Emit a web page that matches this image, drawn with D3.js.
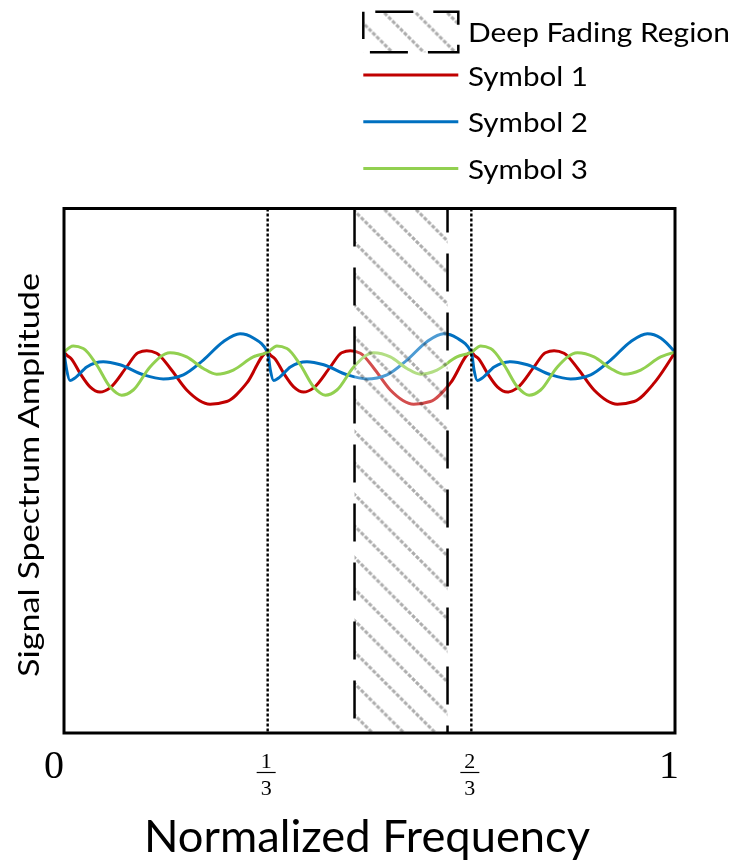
<!DOCTYPE html>
<html>
<head>
<meta charset="utf-8">
<script src="https://cdn.jsdelivr.net/npm/d3@7"></script>
<style>
  body { margin: 0; background: #fff; }
  svg { display: block; }
</style>
</head>
<body>
<svg id="chart"></svg>
<script>
// values: [normalized frequency, amplitude as a share of the plot height]
const symbol1 = [
  [0.0000, 0.726], [0.0049, 0.720], [0.0115, 0.714], [0.0262, 0.686], [0.0426, 0.660], [0.0589, 0.650],
  [0.0753, 0.658], [0.1026, 0.698], [0.1211, 0.725], [0.1354, 0.729], [0.1517, 0.724], [0.1735, 0.696],
  [0.2008, 0.654], [0.2390, 0.627], [0.2663, 0.632], [0.2990, 0.667],
  [0.3333, 0.726], [0.3382, 0.720], [0.3448, 0.714], [0.3595, 0.686], [0.3759, 0.660], [0.3922, 0.650],
  [0.4086, 0.658], [0.4359, 0.698], [0.4544, 0.725], [0.4687, 0.729], [0.4850, 0.724], [0.5068, 0.696],
  [0.5341, 0.654], [0.5723, 0.627], [0.5996, 0.632], [0.6323, 0.667],
  [0.6667, 0.726], [0.6716, 0.720], [0.6782, 0.714], [0.6929, 0.686], [0.7093, 0.660], [0.7256, 0.650],
  [0.7420, 0.658], [0.7693, 0.698], [0.7878, 0.725], [0.8021, 0.729], [0.8184, 0.724], [0.8402, 0.696],
  [0.8675, 0.654], [0.9057, 0.627], [0.9330, 0.632], [0.9657, 0.667], [1.0000, 0.726]
];

const symbol2 = [
  [0.0000, 0.726], [0.0044, 0.692], [0.0098, 0.672], [0.0180, 0.677], [0.0372, 0.698], [0.0643, 0.708],
  [0.0917, 0.702], [0.1298, 0.683], [0.1625, 0.675], [0.1953, 0.683], [0.2280, 0.711], [0.2607, 0.746],
  [0.2881, 0.761], [0.3098, 0.753],
  [0.3333, 0.726], [0.3377, 0.692], [0.3431, 0.672], [0.3513, 0.677], [0.3705, 0.698], [0.3976, 0.708],
  [0.4250, 0.702], [0.4631, 0.683], [0.4958, 0.675], [0.5286, 0.683], [0.5613, 0.711], [0.5940, 0.746],
  [0.6214, 0.761], [0.6431, 0.753],
  [0.6667, 0.726], [0.6711, 0.692], [0.6765, 0.672], [0.6847, 0.677], [0.7039, 0.698], [0.7310, 0.708],
  [0.7584, 0.702], [0.7965, 0.683], [0.8292, 0.675], [0.8620, 0.683], [0.8947, 0.711], [0.9274, 0.746],
  [0.9548, 0.761], [0.9765, 0.753], [1.0000, 0.726]
];

const symbol3 = [
  [0.0000, 0.726], [0.0152, 0.738], [0.0316, 0.733], [0.0535, 0.702], [0.0753, 0.660], [0.0944, 0.644],
  [0.1134, 0.654], [0.1408, 0.698], [0.1735, 0.725], [0.2008, 0.717], [0.2280, 0.695], [0.2499, 0.684],
  [0.2771, 0.692], [0.3098, 0.717],
  [0.3333, 0.726], [0.3485, 0.738], [0.3649, 0.733], [0.3868, 0.702], [0.4086, 0.660], [0.4277, 0.644],
  [0.4467, 0.654], [0.4741, 0.698], [0.5068, 0.725], [0.5341, 0.717], [0.5613, 0.695], [0.5832, 0.684],
  [0.6104, 0.692], [0.6431, 0.717],
  [0.6667, 0.726], [0.6819, 0.738], [0.6983, 0.733], [0.7202, 0.702], [0.7420, 0.660], [0.7611, 0.644],
  [0.7801, 0.654], [0.8075, 0.698], [0.8402, 0.725], [0.8675, 0.717], [0.8947, 0.695], [0.9166, 0.684],
  [0.9438, 0.692], [0.9765, 0.717], [1.0000, 0.726]
];

const seriesNames = ["Symbol 1", "Symbol 2", "Symbol 3"];
const seriesColors = ["#c00000", "#0070c0", "#92d050"];
const fadeLabel = "Deep Fading Region";
const fadeRegion = [0.4755, 0.6277];
const dividers = [1 / 3, 2 / 3];
const tickValues = [0, 1 / 3, 2 / 3, 1];
const tickLabels = [["0"], ["1", "3"], ["2", "3"], ["1"]];
const xTitle = "Normalized Frequency";
const yTitle = "Signal Spectrum Amplitude";

class SpectrumChart {
  constructor(_config, _series) {
    this.config = {
      parentElement: _config.parentElement,
      containerWidth: _config.containerWidth || 734,
      containerHeight: _config.containerHeight || 862,
      margin: {top: 208.5, right: 59, bottom: 129, left: 64}
    };
    this.series = _series;
    this.initVis();
  }

  initVis() {
    let vis = this;
    const m = vis.config.margin;
    vis.width = vis.config.containerWidth - m.left - m.right;
    vis.height = vis.config.containerHeight - m.top - m.bottom;

    vis.svg = d3.select(vis.config.parentElement)
      .attr('width', vis.config.containerWidth)
      .attr('height', vis.config.containerHeight);

    vis.defs = vis.svg.append('defs');
    // hatch patterns (offset so the diagonals fall where they do in the picture)
    vis.addHatch('hatchPlot', 4.5);
    vis.addHatch('hatchLegend', 25);

    vis.defs.append('clipPath').attr('id', 'plotClip')
      .append('rect').attr('width', vis.width).attr('height', vis.height);

    vis.chart = vis.svg.append('g')
      .attr('transform', `translate(${m.left}, ${m.top})`);

    vis.xScale = d3.scaleLinear().domain([0, 1]).range([0, vis.width]);
    vis.yScale = d3.scaleLinear().domain([0, 1]).range([vis.height, 0]);

    vis.updateVis();
  }

  addHatch(id, offset) {
    const w = 31.5;
    const p = this.defs.append('pattern')
      .attr('id', id)
      .attr('patternUnits', 'userSpaceOnUse')
      .attr('x', offset).attr('y', 0)
      .attr('width', w).attr('height', w);
    p.append('path')
      .attr('d', `M-3,-3L${w + 3},${w + 3}M${w - 3},-3L${w + 3},3M-3,${w - 3}L3,${w + 3}`)
      .attr('stroke', '#acacac')
      .attr('stroke-width', 3)
      .attr('stroke-dasharray', '4 1.6');
  }

  updateVis() {
    let vis = this;
    const x = vis.xScale, y = vis.yScale;

    const line = d3.line()
      .x(d => x(d[0]))
      .y(d => y(d[1]))
      .curve(d3.curveMonotoneX);

    // spectra
    vis.chart.append('g').attr('clip-path', 'url(#plotClip)')
      .selectAll('path')
      .data(vis.series)
      .join('path')
        .attr('d', d => line(d.values))
        .attr('fill', 'none')
        .attr('stroke', d => d.color)
        .attr('stroke-width', 3)
        .attr('stroke-linejoin', 'round');

    // deep fading region: washed out + hatched
    const fx0 = x(fadeRegion[0]), fx1 = x(fadeRegion[1]);
    vis.chart.append('rect')
      .attr('x', fx0).attr('y', 0)
      .attr('width', fx1 - fx0).attr('height', vis.height)
      .attr('fill', '#fff').attr('fill-opacity', 0.3);
    vis.chart.append('rect')
      .attr('x', fx0).attr('y', 0)
      .attr('width', fx1 - fx0).attr('height', vis.height)
      .attr('fill', 'url(#hatchPlot)')
      .style('mix-blend-mode', 'multiply');

    vis.chart.selectAll('.fade-edge')
      .data(fadeRegion)
      .join('line')
        .attr('class', 'fade-edge')
        .attr('x1', d => x(d)).attr('x2', d => x(d))
        .attr('y1', 0).attr('y2', vis.height)
        .attr('stroke', '#000')
        .attr('stroke-width', 2.5)
        .attr('stroke-dasharray', '38 21')
        .attr('stroke-dashoffset', (d, i) => i === 0 ? 0 : 14);

    // band dividers
    vis.chart.selectAll('.divider')
      .data(dividers)
      .join('line')
        .attr('class', 'divider')
        .attr('x1', d => x(d)).attr('x2', d => x(d))
        .attr('y1', 0).attr('y2', vis.height)
        .attr('stroke', '#000')
        .attr('stroke-width', 2.4)
        .attr('stroke-dasharray', '3 2');

    // frame
    vis.chart.append('rect')
      .attr('width', vis.width).attr('height', vis.height)
      .attr('fill', 'none').attr('stroke', '#000').attr('stroke-width', 3);

    // x tick labels: plain digits at the ends, stacked fractions inside
    const ticks = vis.chart.append('g')
      .attr('transform', `translate(0, ${vis.height})`)
      .selectAll('g')
      .data(tickValues.map((v, i) => ({v: v, label: tickLabels[i]})))
      .join('g')
        .attr('transform', d => `translate(${x(d.v) + (d.v === 0 ? -10 : d.v === 1 ? -6 : -1.5)}, 0)`)
        .style('font-family', '"Liberation Serif", "Times New Roman", serif')
        .attr('text-anchor', 'middle');

    ticks.filter(d => d.label.length === 1)
      .append('text')
        .attr('y', 45)
        .style('font-size', '40px')
        .text(d => d.label[0]);

    const frac = ticks.filter(d => d.label.length === 2);
    frac.append('text').attr('y', 35).style('font-size', '22px').text(d => d.label[0]);
    frac.append('line')
      .attr('x1', -9.5).attr('x2', 9.5)
      .attr('y1', 39.5).attr('y2', 39.5)
      .attr('stroke', '#000').attr('stroke-width', 1.2);
    frac.append('text').attr('y', 62).style('font-size', '22px').text(d => d.label[1]);

    // axis titles
    vis.svg.append('text')
      .attr('x', 367).attr('y', 851.5)
      .attr('text-anchor', 'middle')
      .attr('textLength', 446).attr('lengthAdjust', 'spacingAndGlyphs')
      .style('font-family', 'Lato, "Open Sans", sans-serif')
      .style('font-size', '44px')
      .text(xTitle);

    vis.svg.append('text')
      .attr('transform', 'translate(39, 475) rotate(-90)')
      .attr('text-anchor', 'middle')
      .attr('textLength', 404).attr('lengthAdjust', 'spacingAndGlyphs')
      .style('font-family', 'Lato, "Open Sans", sans-serif')
      .style('font-size', '28px')
      .text(yTitle);

    vis.drawLegend();
  }

  drawLegend() {
    let vis = this;
    const lx0 = 363.3, lx1 = 458.3, textX = 468;
    const legend = vis.svg.append('g')
      .style('font-family', 'Lato, "Open Sans", sans-serif')
      .style('font-size', '26.5px');

    legend.append('rect')
      .attr('x', lx0).attr('y', 11.7)
      .attr('width', lx1 - lx0).attr('height', 40.6)
      .attr('fill', 'url(#hatchLegend)')
      .attr('stroke', '#000').attr('stroke-width', 2.5)
      .attr('stroke-dasharray', '38 20').attr('stroke-dashoffset', 46);
    legend.append('text')
      .attr('x', textX).attr('y', 41.7)
      .attr('textLength', 262).attr('lengthAdjust', 'spacingAndGlyphs')
      .text(fadeLabel);

    const rows = legend.selectAll('.entry')
      .data(vis.series)
      .join('g')
        .attr('class', 'entry')
        .attr('transform', (d, i) => `translate(0, ${75 + i * 46.7})`);
    rows.append('line')
      .attr('x1', lx0).attr('x2', lx1)
      .attr('stroke', d => d.color).attr('stroke-width', 3);
    rows.append('text')
      .attr('x', textX).attr('y', 10.5)
      .attr('textLength', 120).attr('lengthAdjust', 'spacingAndGlyphs')
      .text(d => d.name);
  }
}

const series = [symbol1, symbol2, symbol3].map((values, i) => ({
  name: seriesNames[i], color: seriesColors[i], values: values
}));

new SpectrumChart({parentElement: '#chart'}, series);
</script>
</body>
</html>
